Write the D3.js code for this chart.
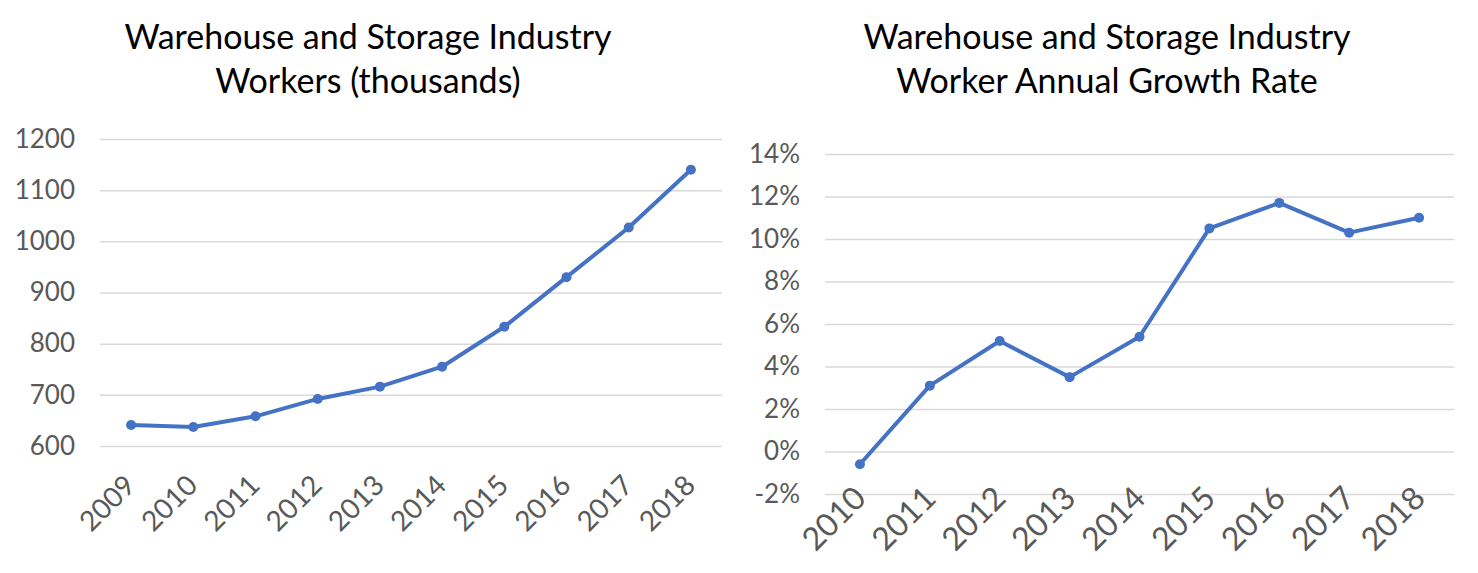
<!DOCTYPE html>
<html lang="en">
<head>
    <meta charset="UTF-8">
    <title>Warehouse and Storage Industry</title>
    <script src="https://cdn.jsdelivr.net/npm/d3@7"></script>
    <style>
        body { margin: 0; background: #fff; }
        text { font-family: Lato, "Open Sans", sans-serif; }
    </style>
</head>
<body>
<script>
    // workers (thousands), 2009-2018
    var workerYears = ["2009", "2010", "2011", "2012", "2013", "2014", "2015", "2016", "2017", "2018"];
    var workerValues = [641, 637, 658, 692, 716, 755, 833, 930, 1027, 1140];
    var workerTicks = [600, 700, 800, 900, 1000, 1100, 1200];

    // annual growth rate, 2010-2018
    var growthYears = ["2010", "2011", "2012", "2013", "2014", "2015", "2016", "2017", "2018"];
    var growthValues = [-0.006, 0.031, 0.052, 0.035, 0.054, 0.105, 0.117, 0.103, 0.110];
    var growthTicks = [-0.02, 0, 0.02, 0.04, 0.06, 0.08, 0.10, 0.12, 0.14];

    var widthSVG = 1478, heightSVG = 573;
    var svg = d3.select("body").append("svg")
        .attr("width", widthSVG)
        .attr("height", heightSVG);

    var lineColor = "#4472c4";

    // one chart panel
    function drawPanel(cfg){
        var g = svg.append("g");

        // title, two lines
        g.selectAll(".title")
            .data(cfg.title)
            .enter()
            .append("text")
            .attr("x", cfg.titleX)
            .attr("y", function (d, i){ return 49 + i * 44; })
            .attr("text-anchor", "middle")
            .attr("font-size", "34px")
            .attr("fill", "#000")
            .text(function (d){ return d; });

        var scaleX = d3.scaleBand()
            .domain(cfg.years)
            .range(cfg.xRange);

        var scaleY = d3.scaleLinear()
            .domain(cfg.yDomain)
            .range(cfg.yRange);

        // gridlines
        var axisY = d3.axisLeft(scaleY)
            .tickValues(cfg.ticks)
            .tickSize(-(cfg.xRange[1] - cfg.xRange[0]))
            .tickPadding(25)
            .tickFormat(cfg.fmt);

        var gy = g.append("g")
            .attr("transform", "translate(" + cfg.xRange[0] + ",0)")
            .call(axisY);
        gy.select(".domain").remove();
        gy.selectAll(".tick line").attr("stroke", "#d9d9d9").attr("stroke-width", 1.5);
        gy.selectAll(".tick text")
            .attr("font-size", "26px")
            .attr("fill", "#595959")
            .attr("font-family", "Lato, 'Open Sans', sans-serif");

        // x axis labels rotated
        var axisX = d3.axisBottom(scaleX).tickSize(0).tickPadding(0);
        var gx = g.append("g")
            .attr("transform", "translate(0," + cfg.yRange[0] + ")")
            .call(axisX);
        gx.select(".domain").remove();
        gx.selectAll(".tick text")
            .attr("font-size", cfg.labelSize)
            .attr("fill", "#595959")
            .attr("font-family", "Lato, 'Open Sans', sans-serif")
            .attr("text-anchor", "end")
            .attr("dy", 0)
            .attr("transform", "translate(" + cfg.labelDx + "," + cfg.labelDy + ") rotate(-45)");

        var data = cfg.years.map(function (y, i){ return {year: y, value: cfg.values[i]}; });

        var line = d3.line()
            .x(function (d){ return scaleX(d.year) + scaleX.bandwidth() / 2; })
            .y(function (d){ return scaleY(d.value); });

        g.append("path")
            .datum(data)
            .attr("d", line)
            .attr("fill", "none")
            .attr("stroke", lineColor)
            .attr("stroke-width", 4)
            .attr("stroke-linejoin", "round");

        g.selectAll(".dot")
            .data(data)
            .enter()
            .append("circle")
            .attr("cx", function (d){ return scaleX(d.year) + scaleX.bandwidth() / 2; })
            .attr("cy", function (d){ return scaleY(d.value); })
            .attr("r", 5)
            .attr("fill", lineColor);
    }

    var pct = d3.format(".0%");

    drawPanel({
        title: ["Warehouse and Storage Industry", "Workers (thousands)"],
        titleX: 368,
        years: workerYears,
        values: workerValues,
        ticks: workerTicks,
        xRange: [100, 722],
        yDomain: [600, 1200],
        yRange: [446, 139],
        fmt: d3.format("d"),
        labelSize: "28px",
        labelDx: 6,
        labelDy: 41
    });

    drawPanel({
        title: ["Warehouse and Storage Industry", "Worker Annual Growth Rate"],
        titleX: 1107,
        years: growthYears,
        values: growthValues,
        ticks: growthTicks,
        xRange: [825, 1454],
        yDomain: [-0.02, 0.14],
        yRange: [494, 154],
        fmt: function (d){ return pct(d).replace("\u2212", "-"); },
        labelSize: "32px",
        labelDx: 8,
        labelDy: 6
    });
</script>
</body>
</html>
